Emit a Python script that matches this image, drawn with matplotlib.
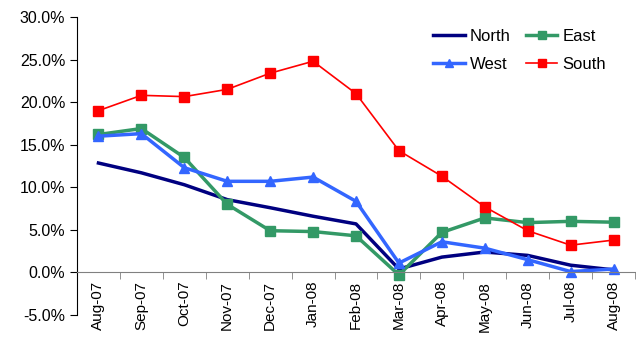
import numpy as np
import matplotlib
matplotlib.use("Agg")
from matplotlib import pyplot as plt
from matplotlib.ticker import FuncFormatter, FixedLocator

plt.rcParams['font.family'] = ['Liberation Sans', 'DejaVu Sans']

months = ['Aug-07', 'Sep-07', 'Oct-07', 'Nov-07', 'Dec-07', 'Jan-08', 'Feb-08',
          'Mar-08', 'Apr-08', 'May-08', 'Jun-08', 'Jul-08', 'Aug-08']
north = [12.85, 11.7, 10.3, 8.55, 7.6, 6.6, 5.7, 0.4, 1.8, 2.4, 2.0, 0.85, 0.3]
east = [16.2, 16.9, 13.5, 8.0, 4.9, 4.8, 4.3, -0.3, 4.7, 6.4, 5.85, 6.0, 5.9]
west = [16.0, 16.3, 12.3, 10.7, 10.7, 11.2, 8.35, 1.1, 3.6, 2.85, 1.5, 0.1, 0.4]
south = [19.0, 20.8, 20.65, 21.5, 23.4, 24.8, 21.0, 14.3, 11.3, 7.7, 4.9, 3.2, 3.8]

x = np.arange(len(months))

fig = plt.figure(figsize=(6.36, 3.39), dpi=100)
ax = fig.add_axes([77/636, 1-315/339, (635-77)/636, (315-17)/339])

l_n, = ax.plot(x, north, color='#000080', lw=2.5, label='North')
l_e, = ax.plot(x, east, color='#339966', lw=2.5, marker='s', ms=6.5, label='East')
l_w, = ax.plot(x, west, color='#3366FF', lw=2.5, marker='^', ms=6.5, label='West')
l_s, = ax.plot(x, south, color='#FF0000', lw=1.2, marker='s', ms=7, label='South')

ax.set_xlim(-0.5, len(months) - 0.5)
ax.set_ylim(-5, 30)
ax.set_yticks(np.arange(-5, 31, 5))
ax.yaxis.set_major_formatter(FuncFormatter(lambda v, p: f'{v:.1f}%'))

# category labels centred, tick marks between categories
ax.set_xticks(x)
ax.set_xticklabels(months)
ax.xaxis.set_minor_locator(FixedLocator(np.arange(-0.5, len(months), 1)))
ax.tick_params(axis='x', which='major', length=0, pad=6, labelrotation=90, labelsize=11)
ax.tick_params(axis='x', which='minor', length=5, direction='out', color='#808080')
ax.tick_params(axis='y', length=5, direction='out', labelsize=11.5)

ax.spines['bottom'].set_position(('data', 0))
ax.spines['bottom'].set_color('#808080')
ax.spines['top'].set_visible(False)
ax.spines['right'].set_visible(False)

# legend fills column-wise: North/East on the first row, West/South below
ax.legend([l_n, l_w, l_e, l_s], ['North', 'West', 'East', 'South'],
          ncol=2, loc='upper right', bbox_to_anchor=(0.975, 1.01), frameon=False,
          fontsize=12, handlelength=1.9, columnspacing=0.9, handletextpad=0.3,
          labelspacing=0.75, markerscale=0.85)

fig.savefig('out.png', dpi=100)
